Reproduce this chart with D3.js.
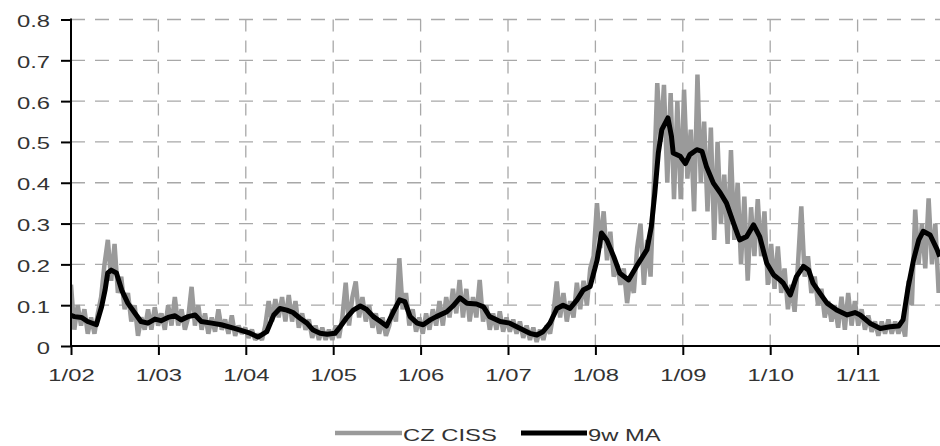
<!DOCTYPE html>
<html>
<head>
<meta charset="utf-8">
<script src="https://cdn.jsdelivr.net/npm/d3@7"></script>
<style>
  html, body { margin: 0; padding: 0; background: #fff; }
  svg { display: block; }
  text { font-family: "Liberation Sans", Arial, sans-serif; fill: #333; }
</style>
</head>
<body>
<svg id="chart" width="940" height="446"></svg>
<script>
// ---------------- DATA ----------------
const yTicks = [0, 0.1, 0.2, 0.3, 0.4, 0.5, 0.6, 0.7, 0.8];
const yTickLabels = ["0", "0.1", "0.2", "0.3", "0.4", "0.5", "0.6", "0.7", "0.8"];
const xTickYears = [2002, 2003, 2004, 2005, 2006, 2007, 2008, 2009, 2010, 2011];
const xTickLabels = ["1/02", "1/03", "1/04", "1/05", "1/06", "1/07", "1/08", "1/09", "1/10", "1/11"];
const seriesNames = ["CZ CISS", "9w MA"];

// CZ CISS, sampled every 2 weeks starting at the beginning of 2002
const cissStartYear = 2002.0;
const cissStepDays = 14;
const cissValues = [
  0.15,0.04,0.10,0.05,0.09,0.03,0.07,0.03,0.08,0.12,0.20,0.26,0.16,
  0.25,0.13,0.17,0.09,0.13,0.06,0.10,0.025,0.07,0.04,0.09,0.04,0.095,
  0.05,0.08,0.04,0.10,0.05,0.12,0.05,0.09,0.04,0.07,0.145,0.05,0.10,
  0.04,0.08,0.03,0.07,0.035,0.09,0.04,0.065,0.03,0.075,0.025,0.05,0.03,
  0.045,0.02,0.04,0.015,0.03,0.015,0.05,0.11,0.06,0.115,0.07,0.12,0.06,
  0.125,0.06,0.11,0.045,0.08,0.04,0.065,0.02,0.05,0.015,0.045,0.015,0.04,
  0.015,0.05,0.02,0.07,0.155,0.05,0.12,0.158,0.07,0.12,0.06,0.10,0.045,
  0.08,0.03,0.07,0.025,0.05,0.09,0.06,0.215,0.09,0.13,0.05,0.09,0.035,
  0.07,0.03,0.08,0.04,0.09,0.05,0.11,0.05,0.12,0.07,0.14,0.08,0.162,
  0.07,0.14,0.06,0.12,0.07,0.162,0.06,0.10,0.04,0.08,0.04,0.085,0.035,
  0.07,0.035,0.065,0.03,0.06,0.02,0.05,0.015,0.045,0.01,0.04,0.015,0.05,
  0.03,0.08,0.158,0.07,0.13,0.06,0.11,0.07,0.155,0.09,0.16,0.10,0.19,
  0.22,0.35,0.24,0.33,0.21,0.28,0.17,0.20,0.15,0.19,0.105,0.17,0.13,
  0.24,0.30,0.15,0.26,0.17,0.40,0.644,0.50,0.64,0.40,0.62,0.36,0.60,
  0.36,0.628,0.41,0.53,0.33,0.665,0.40,0.55,0.33,0.535,0.26,0.50,0.30,
  0.42,0.25,0.48,0.26,0.40,0.20,0.366,0.16,0.34,0.22,0.36,0.22,0.33,
  0.15,0.25,0.14,0.244,0.13,0.19,0.09,0.15,0.084,0.20,0.342,0.17,0.22,
  0.13,0.17,0.10,0.14,0.07,0.11,0.06,0.10,0.045,0.121,0.04,0.13,0.05,
  0.11,0.05,0.09,0.04,0.075,0.035,0.06,0.025,0.06,0.03,0.065,0.03,0.06,
  0.03,0.06,0.023,0.16,0.10,0.334,0.20,0.30,0.19,0.362,0.20,0.30,0.13
];

// 9-week moving average: [decimal year] and value
const maYears = [
  2002.00,2002.04,2002.12,2002.19,2002.29,2002.35,2002.39,2002.42,2002.46,2002.52,
  2002.58,2002.65,2002.73,2002.80,2002.88,2002.96,2003.03,2003.11,2003.19,2003.26,
  2003.34,2003.42,2003.49,2003.61,2003.72,2003.87,2004.03,2004.14,2004.24,2004.32,
  2004.39,2004.47,2004.54,2004.62,2004.70,2004.77,2004.85,2004.93,2005.02,2005.08,
  2005.15,2005.23,2005.31,2005.38,2005.46,2005.54,2005.61,2005.69,2005.76,2005.82,
  2005.88,2005.96,2006.03,2006.11,2006.18,2006.30,2006.37,2006.45,2006.53,2006.64,
  2006.72,2006.79,2006.91,2007.02,2007.14,2007.25,2007.33,2007.40,2007.48,2007.56,
  2007.63,2007.71,2007.79,2007.86,2007.94,2008.02,2008.07,2008.13,2008.21,2008.28,
  2008.38,2008.47,2008.59,2008.64,2008.68,2008.72,2008.76,2008.83,2008.87,2008.89,
  2008.97,2009.03,2009.08,2009.16,2009.22,2009.27,2009.35,2009.43,2009.50,2009.58,
  2009.65,2009.73,2009.81,2009.88,2009.96,2010.04,2010.11,2010.15,2010.23,2010.30,
  2010.38,2010.44,2010.49,2010.57,2010.65,2010.76,2010.88,2010.97,2011.03,2011.14,
  2011.26,2011.37,2011.47,2011.52,2011.58,2011.64,2011.70,2011.75,2011.83,2011.91,2011.94
];
const maValues = [
  0.075,0.072,0.070,0.060,0.052,0.096,0.137,0.179,0.186,0.179,
  0.137,0.105,0.081,0.060,0.056,0.066,0.062,0.070,0.074,0.064,
  0.072,0.076,0.060,0.056,0.052,0.043,0.033,0.022,0.035,0.076,
  0.092,0.088,0.082,0.068,0.056,0.039,0.031,0.029,0.031,0.047,
  0.068,0.088,0.098,0.090,0.072,0.060,0.049,0.084,0.113,0.109,
  0.072,0.056,0.052,0.064,0.072,0.084,0.098,0.118,0.105,0.103,
  0.096,0.072,0.060,0.056,0.043,0.031,0.027,0.035,0.056,0.092,
  0.100,0.092,0.113,0.137,0.146,0.211,0.277,0.260,0.219,0.178,
  0.162,0.195,0.236,0.293,0.375,0.473,0.530,0.559,0.514,0.473,
  0.465,0.447,0.469,0.481,0.477,0.440,0.399,0.375,0.350,0.301,
  0.260,0.268,0.297,0.268,0.203,0.174,0.162,0.154,0.125,0.170,
  0.195,0.186,0.154,0.129,0.105,0.088,0.076,0.082,0.076,0.056,
  0.043,0.047,0.049,0.064,0.146,0.211,0.260,0.281,0.272,0.236,0.219
];

// ---------------- CHART ----------------
const pL = 71, pR = 940, pT = 19.5, pB = 346;
const svg = d3.select("#chart");

const x = d3.scaleLinear().domain([2002, 2012]).range([pL, pL + 874]);
const y = d3.scaleLinear().domain([0, 0.8]).range([pB, pT]);

const cissData = cissValues.map((v, i) => ({ t: cissStartYear + i * cissStepDays / 365.25, v }));
const maData = maYears.map((t, i) => ({ t, v: maValues[i] }));

svg.append("defs").append("clipPath").attr("id", "plotclip")
  .append("rect").attr("x", pL).attr("y", 0).attr("width", pR - pL).attr("height", pB + 1);

// gridlines
const grid = svg.append("g");
grid.selectAll("line.h").data(yTicks.filter(d => d > 0)).join("line")
  .attr("x1", pL).attr("x2", pR)
  .attr("y1", d => y(d)).attr("y2", d => y(d))
  .attr("stroke", "#a8a8a8").attr("stroke-width", 1.3).attr("stroke-dasharray", "14,10");
grid.selectAll("line.v").data(xTickYears.filter(d => d > 2002)).join("line")
  .attr("x1", d => x(d)).attr("x2", d => x(d))
  .attr("y1", pT).attr("y2", pB)
  .attr("stroke", "#a8a8a8").attr("stroke-width", 1.3).attr("stroke-dasharray", "12,9");

// series
const line = d3.line().x(d => x(d.t)).y(d => y(d.v)).curve(d3.curveLinear);
const plot = svg.append("g").attr("clip-path", "url(#plotclip)");
plot.append("path").datum(cissData).attr("d", line)
  .attr("fill", "none").attr("stroke", "#9a9a9a").attr("stroke-width", 4.5)
  .attr("stroke-linejoin", "miter").attr("stroke-miterlimit", 2);
plot.append("path").datum(maData).attr("d", line)
  .attr("fill", "none").attr("stroke", "#000").attr("stroke-width", 5)
  .attr("stroke-linejoin", "round");

// axes
const yAxis = d3.axisLeft(y).tickValues(yTicks).tickSize(10).tickFormat((d, i) => yTickLabels[i]);
const gy = svg.append("g").attr("transform", `translate(${pL},0)`).call(yAxis);
gy.select(".domain").attr("stroke", "#000").attr("stroke-width", 2).attr("d", `M0,${pT - 1}V${pB + 1}`);
gy.selectAll(".tick line").attr("stroke", "#000").attr("stroke-width", 2);
gy.selectAll(".tick text").remove();
gy.selectAll(".tick").append("text")
  .attr("transform", "translate(-21,7) scale(1.4,1)")
  .attr("text-anchor", "end").attr("font-size", 17).attr("fill", "#333")
  .text((d, i) => yTickLabels[i]);

const xAxis = d3.axisBottom(x).tickValues(xTickYears).tickSize(9).tickFormat((d, i) => xTickLabels[i]);
const gx = svg.append("g").attr("transform", `translate(0,${pB})`).call(xAxis);
gx.select(".domain").attr("stroke", "#000").attr("stroke-width", 2).attr("d", `M${pL - 1},0H${pR}`);
gx.selectAll(".tick line").attr("stroke", "#000").attr("stroke-width", 2);
gx.selectAll(".tick text").remove();
gx.selectAll(".tick").append("text")
  .attr("transform", "translate(0,35) scale(1.4,1)")
  .attr("text-anchor", "middle").attr("font-size", 17).attr("fill", "#333")
  .text((d, i) => xTickLabels[i]);

// legend
const legend = svg.append("g");
const legItems = [
  { name: seriesNames[0], color: "#9a9a9a", w: 4.5, x0: 335, x1: 402, tx: 403 },
  { name: seriesNames[1], color: "#000", w: 5, x0: 521, x1: 587, tx: 588 }
];
legItems.forEach(it => {
  legend.append("line").attr("x1", it.x0).attr("x2", it.x1).attr("y1", 433).attr("y2", 433)
    .attr("stroke", it.color).attr("stroke-width", it.w);
  legend.append("text").attr("transform", `translate(${it.tx},441) scale(1.4,1)`)
    .attr("font-size", 17).attr("fill", "#333").text(it.name);
});
</script>
</body>
</html>
